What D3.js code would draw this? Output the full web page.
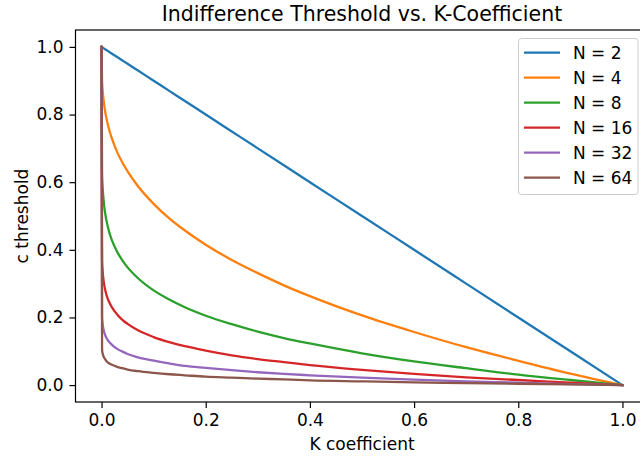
<!DOCTYPE html>
<html>
<head>
<meta charset="utf-8">
<script src="https://cdn.jsdelivr.net/npm/d3@7"></script>
<style>
  body { margin: 0; background: #fff; }
  svg { display: block; font-family: "DejaVu Sans", sans-serif; }
</style>
</head>
<body>
<svg id="chart" width="640" height="457"></svg>
<script>
// K values sampled along the x axis
var kValues = [0, 0.001, 0.002, 0.003, 0.005, 0.0075, 0.01, 0.015, 0.02, 0.03, 0.04, 0.05, 0.07,
    0.1, 0.13, 0.16, 0.2, 0.25, 0.3, 0.35, 0.4, 0.5, 0.6, 0.7, 0.8, 0.9, 1.0];

// c threshold, one array per N
var n2  = [1, 0.999, 0.998, 0.997, 0.995, 0.9925, 0.99, 0.985, 0.98, 0.97, 0.96, 0.95, 0.93,
    0.9, 0.87, 0.84, 0.8, 0.75, 0.7, 0.65, 0.6, 0.5, 0.4, 0.3, 0.2, 0.1, 0];
var n4  = [1, 0.900, 0.874, 0.856, 0.829, 0.804, 0.785, 0.753, 0.729, 0.689, 0.658, 0.632, 0.588,
    0.536, 0.493, 0.457, 0.415, 0.370, 0.331, 0.295, 0.263, 0.206, 0.157, 0.112, 0.072, 0.034, 0];
var n8  = [1, 0.627, 0.588, 0.564, 0.531, 0.503, 0.482, 0.451, 0.428, 0.394, 0.369, 0.348, 0.316,
    0.280, 0.253, 0.230, 0.205, 0.180, 0.158, 0.139, 0.123, 0.094, 0.070, 0.050, 0.031, 0.015, 0];
var n16 = [1, 0.369, 0.339, 0.321, 0.298, 0.278, 0.264, 0.244, 0.230, 0.209, 0.193, 0.181, 0.162,
    0.142, 0.127, 0.115, 0.102, 0.088, 0.077, 0.068, 0.059, 0.045, 0.033, 0.023, 0.015, 0.007, 0];
var n32 = [1, 0.200, 0.182, 0.171, 0.157, 0.146, 0.138, 0.127, 0.119, 0.107, 0.099, 0.092, 0.082,
    0.072, 0.064, 0.057, 0.051, 0.044, 0.038, 0.033, 0.029, 0.022, 0.016, 0.011, 0.007, 0.003, 0];
var n64 = [1, 0.104, 0.094, 0.088, 0.081, 0.075, 0.070, 0.064, 0.060, 0.054, 0.050, 0.046, 0.041,
    0.036, 0.032, 0.029, 0.025, 0.022, 0.019, 0.017, 0.014, 0.011, 0.008, 0.006, 0.004, 0.002, 0];

var seriesNames = ["N = 2", "N = 4", "N = 8", "N = 16", "N = 32", "N = 64"];
var seriesValues = [n2, n4, n8, n16, n32, n64];
var colours = ["#1f77b4", "#ff7f0e", "#2ca02c", "#d62728", "#9467bd", "#8c564b"];

var xTicks = [0, 0.2, 0.4, 0.6, 0.8, 1.0];
var yTicks = [0, 0.2, 0.4, 0.6, 0.8, 1.0];

// Axes box (matplotlib style, 5% margins)
var plotLeft = 75.5, plotRight = 648.5, plotTop = 30, plotBottom = 402;

var x = d3.scaleLinear()
    .domain([-0.05, 1.05])
    .range([plotLeft, plotRight]);

var y = d3.scaleLinear()
    .domain([-0.05, 1.05])
    .range([plotBottom, plotTop]);

var svg = d3.select("#chart");

svg.append("defs").append("clipPath")
    .attr("id", "plot-clip")
    .append("rect")
    .attr("x", plotLeft)
    .attr("y", plotTop)
    .attr("width", plotRight - plotLeft)
    .attr("height", plotBottom - plotTop);

// Lines
var line = d3.line()
    .curve(d3.curveMonotoneX)
    .x(function(d) { return x(d[0]); })
    .y(function(d) { return y(d[1]); });

svg.append("g")
    .attr("clip-path", "url(#plot-clip)")
    .selectAll("path")
    .data(seriesValues)
    .enter()
    .append("path")
    .attr("d", function(vals) {
        return line(vals.map(function(v, i) { return [kValues[i], v]; }));
    })
    .attr("fill", "none")
    .attr("stroke", function(d, i) { return colours[i]; })
    .attr("stroke-width", 2.3)
    .attr("stroke-linejoin", "round")
    .attr("stroke-linecap", "square");

// Axes
var xAxis = d3.axisBottom(x)
    .tickValues(xTicks)
    .tickFormat(d3.format(".1f"))
    .tickSize(6)
    .tickPadding(6);

var yAxis = d3.axisLeft(y)
    .tickValues(yTicks)
    .tickFormat(d3.format(".1f"))
    .tickSize(6)
    .tickPadding(6);

var gx = svg.append("g")
    .attr("transform", "translate(0," + plotBottom + ")")
    .call(xAxis);

var gy = svg.append("g")
    .attr("transform", "translate(" + plotLeft + ",0)")
    .call(yAxis);

[gx, gy].forEach(function(g) {
    g.select(".domain").remove();
    g.selectAll(".tick line").attr("stroke", "#000").attr("stroke-width", 1.2);
    g.selectAll(".tick text")
        .attr("fill", "#000")
        .style("font-size", "17px")
        .style("font-family", "DejaVu Sans, sans-serif");
});

// Frame
svg.append("rect")
    .attr("x", plotLeft)
    .attr("y", plotTop)
    .attr("width", plotRight - plotLeft)
    .attr("height", plotBottom - plotTop)
    .attr("fill", "none")
    .attr("stroke", "#000")
    .attr("stroke-width", 1.2);

// Title and labels
svg.append("text")
    .attr("x", (plotLeft + plotRight) / 2)
    .attr("y", 21)
    .attr("text-anchor", "middle")
    .style("font-size", "20.5px")
    .text("Indifference Threshold vs. K-Coefficient");

svg.append("text")
    .attr("x", (plotLeft + plotRight) / 2)
    .attr("y", 450)
    .attr("text-anchor", "middle")
    .style("font-size", "17px")
    .text("K coefficient");

svg.append("text")
    .attr("transform", "translate(28," + (plotTop + plotBottom) / 2 + ")rotate(-90)")
    .attr("text-anchor", "middle")
    .style("font-size", "17px")
    .text("c threshold");

// Legend
var legend = svg.append("g");

legend.append("rect")
    .attr("x", 518.5)
    .attr("y", 38.5)
    .attr("width", 119.5)
    .attr("height", 156)
    .attr("rx", 3)
    .attr("fill", "#fff")
    .attr("fill-opacity", 0.8)
    .attr("stroke", "#cccccc");

var rows = legend.selectAll("g.row")
    .data(seriesNames)
    .enter()
    .append("g")
    .attr("class", "row")
    .attr("transform", function(d, i) { return "translate(0," + (52.7 + i * 25) + ")"; });

rows.append("line")
    .attr("x1", 524)
    .attr("x2", 560)
    .attr("stroke", function(d, i) { return colours[i]; })
    .attr("stroke-width", 2.3);

rows.append("text")
    .attr("x", 573)
    .attr("dy", "0.36em")
    .style("font-size", "17px")
    .text(function(d) { return d; });
</script>
</body>
</html>
